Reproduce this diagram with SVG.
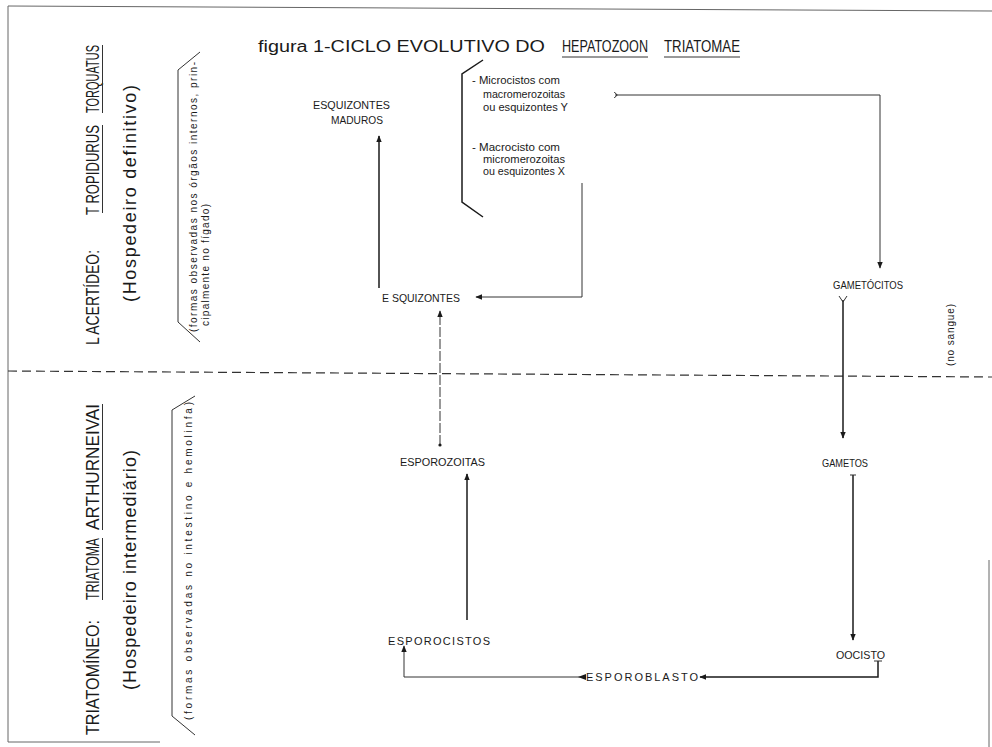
<svg xmlns="http://www.w3.org/2000/svg" width="992" height="747" viewBox="0 0 992 747">
<defs>
<style>
text{font-family:"Liberation Sans","DejaVu Sans",Arial,sans-serif;fill:#1a1a1a}
.lbl{font-size:11px}
.note{font-size:10.5px}
.host{font-size:18px}
.sub{font-size:18px}
.obs{font-size:10px}
.ttl{font-size:16px}
.ln{stroke:#1a1a1a;stroke-width:1.5;fill:none}
.thin{stroke:#333;stroke-width:1;fill:none}
.frame{stroke:#666;stroke-width:1;fill:none}
.dash{stroke:#333;stroke-width:1.2;stroke-dasharray:9 5;fill:none}
</style>
<marker id="ah" viewBox="0 0 10 8" refX="9" refY="4" markerWidth="7" markerHeight="6" orient="auto" markerUnits="userSpaceOnUse">
<path d="M0,0 L10,4 L0,8 z" fill="#1a1a1a"/>
</marker>
<marker id="tail" viewBox="0 0 8 8" refX="1" refY="4" markerWidth="6" markerHeight="6" orient="auto" markerUnits="userSpaceOnUse">
<path d="M0,0 L4,4 L0,8" stroke="#1a1a1a" stroke-width="1.3" fill="none"/>
</marker>
</defs>
<rect width="992" height="747" fill="#fff"/>

<g id="frame">
<path class="frame" d="M8,6 L992,11"/>
<path class="frame" d="M8,6 L8,742"/>
<path class="frame" d="M8,742 L160,742"/>
<path class="frame" d="M989,560 L989,747"/>
<path class="dash" d="M8,371 L992,377"/>
</g>

<g id="title">
<text class="ttl" x="258" y="52" textLength="287" lengthAdjust="spacingAndGlyphs">figura 1-CICLO EVOLUTIVO DO</text>
<text class="ttl" x="562" y="52" textLength="86" lengthAdjust="spacingAndGlyphs">HEPATOZOON</text>
<text class="ttl" x="664" y="52" textLength="76" lengthAdjust="spacingAndGlyphs">TRIATOMAE</text>
<path class="thin" d="M562,57 L648,57 M664,57 L740,57"/>
</g>

<g id="host-definitivo">
<g transform="translate(99,345) rotate(-90)">
<text class="host" x="0" y="0" textLength="95" lengthAdjust="spacingAndGlyphs">L ACERTÍDEO:</text>
<text class="host" x="130" y="0" textLength="90" lengthAdjust="spacingAndGlyphs">T ROPIDURUS</text>
<text class="host" x="232" y="0" textLength="68" lengthAdjust="spacingAndGlyphs">TORQUATUS</text>
<path class="thin" d="M132,3.5 L220,3.5 M232,3.5 L300,3.5"/>
</g>
<text class="sub" transform="translate(136,302) rotate(-90)" textLength="217" lengthAdjust="spacing">(Hospedeiro definitivo)</text>
<path class="thin" d="M200,52 L178,70 L178,322 L200,342"/>
<text class="obs" transform="translate(197,332) rotate(-90)" textLength="270" lengthAdjust="spacing">(formas observadas nos órgãos internos, prin-</text>
<text class="obs" transform="translate(209,326) rotate(-90)" textLength="122" lengthAdjust="spacing">cipalmente no fígado)</text>
</g>

<g id="host-intermediario">
<g transform="translate(99,735) rotate(-90)">
<text class="host" x="0" y="0" textLength="115" lengthAdjust="spacingAndGlyphs">TRIATOMÍNEO:</text>
<text class="host" x="135" y="0" textLength="62" lengthAdjust="spacingAndGlyphs">TRIATOMA</text>
<text class="host" x="205" y="0" textLength="126" lengthAdjust="spacingAndGlyphs">ARTHURNEIVAI</text>
<path class="thin" d="M135,3.5 L197,3.5 M205,3.5 L331,3.5"/>
</g>
<text class="sub" transform="translate(136,690) rotate(-90)" textLength="240" lengthAdjust="spacing">(Hospedeiro  intermediário)</text>
<path class="thin" d="M195,396 L172,410 L172,716 L195,735"/>
<text class="obs" transform="translate(192,720) rotate(-90)" textLength="318" lengthAdjust="spacing">(formas observadas no intestino e hemolinfa)</text>
</g>

<g id="cistos">
<path class="ln" d="M483,60 L462,74 L462,202 L483,217"/>
<text class="note" x="472" y="84" textLength="88" lengthAdjust="spacingAndGlyphs">- Microcistos com</text>
<text class="note" x="483" y="98" textLength="82" lengthAdjust="spacingAndGlyphs">macromerozoitas</text>
<text class="note" x="483" y="111" textLength="85" lengthAdjust="spacingAndGlyphs">ou esquizontes Y</text>
<text class="note" x="472" y="151" textLength="88" lengthAdjust="spacingAndGlyphs">- Macrocisto com</text>
<text class="note" x="483" y="163" textLength="82" lengthAdjust="spacingAndGlyphs">micromerozoitas</text>
<text class="note" x="483" y="175" textLength="82" lengthAdjust="spacingAndGlyphs">ou esquizontes X</text>
</g>

<g id="esquizontes-maduros">
<text class="lbl" x="313" y="109" textLength="77" lengthAdjust="spacingAndGlyphs">ESQUIZONTES</text>
<text class="lbl" x="331" y="124" textLength="52" lengthAdjust="spacingAndGlyphs">MADUROS</text>
</g>
<g id="esquizontes"><text class="lbl" x="382" y="302" textLength="78" lengthAdjust="spacingAndGlyphs">E SQUIZONTES</text></g>
<g id="gametocitos"><text class="lbl" x="833" y="289" textLength="70" lengthAdjust="spacingAndGlyphs">GAMETÓCITOS</text></g>
<g id="no-sangue"><text class="obs" transform="translate(954,366) rotate(-90)" textLength="62" lengthAdjust="spacing">(no sangue)</text></g>
<g id="esporozoitas"><text class="lbl" x="400" y="466" textLength="85" lengthAdjust="spacingAndGlyphs">ESPOROZOITAS</text></g>
<g id="gametos"><text class="lbl" x="822" y="467" textLength="46" lengthAdjust="spacingAndGlyphs">GAMETOS</text></g>
<g id="esporocistos"><text class="lbl" x="388" y="645" textLength="102" lengthAdjust="spacing">ESPOROCISTOS</text></g>
<g id="oocisto"><text class="lbl" x="836" y="659" textLength="49" lengthAdjust="spacingAndGlyphs">OOCISTO</text></g>
<g id="esporoblasto"><text class="lbl" x="586" y="681" textLength="112" lengthAdjust="spacing">ESPOROBLASTO</text></g>

<g id="connectors">
<path class="ln" d="M379,288 L379,136" marker-end="url(#ah)"/>
<path class="thin" d="M582,183 L582,297 L476,297" marker-end="url(#ah)"/>
<path class="thin" d="M615,95 L880,95 L880,268" marker-start="url(#tail)" marker-end="url(#ah)"/>
<path class="thin" d="M440,445 L440,311" stroke-dasharray="10 2" marker-end="url(#ah)"/>
<circle cx="440" cy="445" r="1.6" fill="#1a1a1a"/>
<path class="ln" d="M467,620 L467,474" marker-end="url(#ah)"/>
<path class="ln" d="M843,300 L843,438" marker-end="url(#ah)"/>
<path class="thin" d="M839,296 L843,302 L847,296"/>
<path class="ln" d="M853,475 L853,640" marker-end="url(#ah)"/>
<path class="thin" d="M850,475 L856,475"/>
<path class="ln" d="M878,661 L878,677 L700,677" marker-end="url(#ah)"/>
<path class="thin" d="M874,661 L882,661"/>
<path class="thin" d="M584,677 L404,677 L404,646" marker-end="url(#ah)"/>
<path d="M578,677 L586,674 L586,680 z" fill="#1a1a1a"/>
</g>
</svg>
